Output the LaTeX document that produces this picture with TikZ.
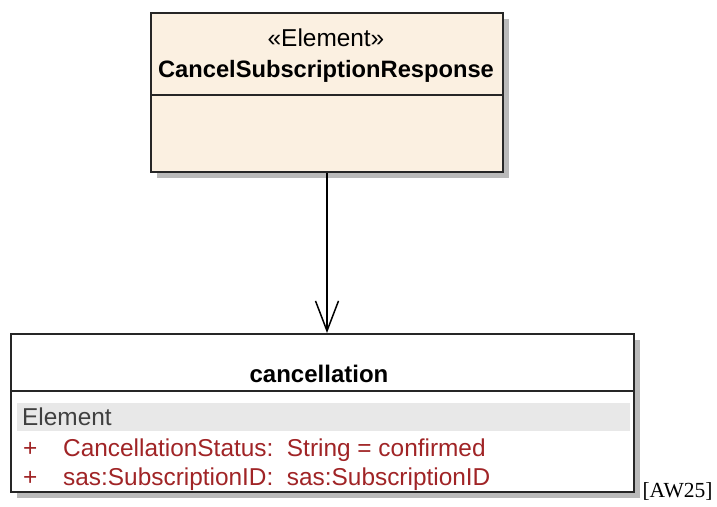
\documentclass[tikz,border=0pt]{standalone}
\usepackage{fontspec}
\setmainfont{Liberation Sans}
\newfontfamily\tagfont{Liberation Serif}
\usetikzlibrary{positioning, arrows.meta, shadows}
\definecolor{elemfill}{RGB}{251,240,225}
\definecolor{attrred}{RGB}{160,36,38}
\definecolor{bandgray}{RGB}{232,232,232}
\tikzset{
  umlbox/.style={draw=black!85, line width=2pt, inner sep=0pt, anchor=north west,
    drop shadow={shadow xshift=6pt, shadow yshift=-6pt, fill=black!27, opacity=1}}, % class boxes
  umltitle/.style={font=\bfseries\fontsize{23.7}{28}\selectfont, anchor=base, inner sep=0pt}, % class names
  umlattr/.style={font=\fontsize{24.4}{28}\selectfont, anchor=base west, inner sep=0pt}, % attribute lines
  assoc/.style={-{Straight Barb[length=30pt, width=23pt, line width=1.5pt]}, line width=1.8pt}, % directed association
}

\begin{document}
\begin{tikzpicture}[x=1pt, y=1pt]
    \useasboundingbox (0,0) rectangle (717,506);

    % the element class
    \node[umlbox, fill=elemfill, minimum width=352pt, minimum height=159pt] (resp) at (150,494) {};
    \draw[line width=2pt, draw=black!85] (150,411) -- (502,411);
    \node[font=\fontsize{24.4}{28}\selectfont, anchor=base, inner sep=0pt] (respster) at (326,459) {«Element»};
    \node[umltitle] (respname) at (326,428) {CancelSubscriptionResponse};

    % the child element
    \node[umlbox, fill=white, minimum width=623pt, minimum height=158pt] (canc) at (10,173) {};
    \draw[line width=2pt, draw=black!85] (10,115) -- (633,115);
    \node[umltitle, font=\bfseries\fontsize{24}{28}\selectfont] (cancname) at (319,123) {cancellation};
    \fill[bandgray] (17,75) rectangle (630,103);
    \node[umlattr, text=black!75] (cancster) at (22,81) {Element};
    \node[umlattr, text=attrred] (plusa) at (23,50) {+};
    \node[umlattr, text=attrred] (attra) at (63,50) {CancellationStatus:\ \ String = confirmed};
    \node[umlattr, text=attrred] (plusb) at (23,21) {+};
    \node[umlattr, text=attrred] (attrb) at (63,21) {sas:SubscriptionID:\ \ sas:SubscriptionID};

    \draw[assoc] (resp.south) -- (resp.south |- canc.north);

    \node[font=\tagfont\fontsize{21.5}{24}\selectfont, anchor=base east] (tag) at (716,9) {[AW25]};
\end{tikzpicture}
\end{document}
